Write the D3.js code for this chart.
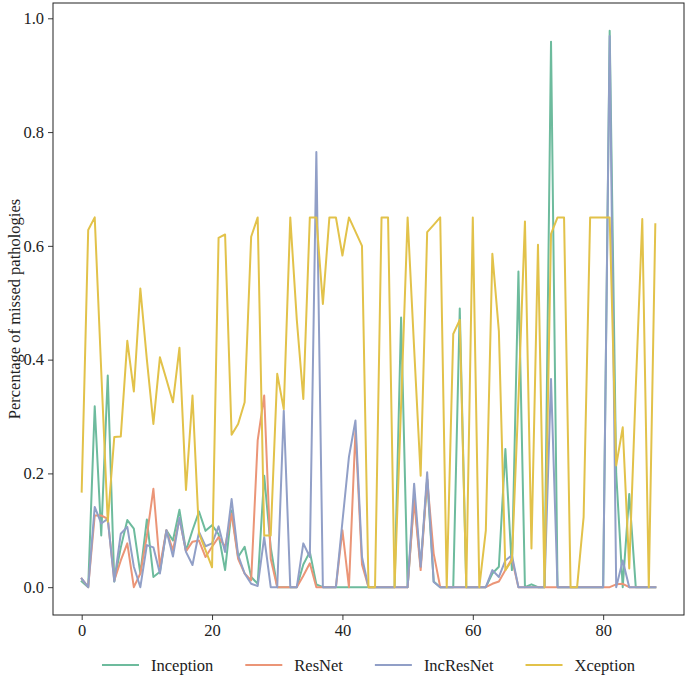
<!DOCTYPE html>
<html>
<head>
<meta charset="utf-8">
<script src="https://cdn.jsdelivr.net/npm/d3@7"></script>
<style>
  html, body { margin: 0; padding: 0; background: #fff; }
  svg { display: block; }
  text { font-family: "Liberation Serif", "Times New Roman", serif; fill: #222; }
</style>
</head>
<body>
<svg id="chart" width="685" height="675"></svg>
<script>
// ---- data ----
const seriesNames = ["Inception", "ResNet", "IncResNet", "Xception"];
const seriesColors = ["#6dbb9d", "#eb9577", "#919fc7", "#e2c24a"];

const inception = [0.01,0,0.318,0.091,0.372,0.01,0.07,0.118,0.103,0.024,
  0.119,0.018,0.027,0.1,0.082,0.136,0.064,0.1,0.133,0.099,
  0.109,0.093,0.03,0.135,0.053,0.071,0.018,0.006,0.196,0.07,
  0,0,0,0,0.04,0.062,0.005,0,0,0,
  0,0,0,0,0,0,0,0,0,0.474,
  0,0.16,0.036,0.19,0.01,0,0,0,0.49,0,
  0,0,0,0.024,0.036,0.243,0.03,0.555,0,0.005,
  0,0,0.959,0,0,0,0,0,0,0,
  0,0.978,0.2,0,0.164,0,0,0,0];

const resnet = [0.015,0,0.126,0.126,0.12,0.012,0.047,0.077,0,0.024,
  0.09,0.173,0.036,0.1,0.065,0.12,0.063,0.08,0.082,0.053,
  0.071,0.088,0.071,0.129,0.05,0.024,0.012,0.258,0.337,0.05,
  0,0,0,0,0.02,0.042,0,0,0,0,
  0.1,0,0.275,0.04,0,0,0,0,0,0,
  0,0.153,0.03,0.19,0.059,0,0,0,0,0,
  0,0,0,0.006,0.01,0.03,0.05,0,0,0,
  0,0,0,0,0,0,0,0,0,0,
  0,0,0.005,0.006,0,0,0,0,0];

const incresnet = [0.015,0,0.141,0.112,0.12,0.01,0.094,0.106,0.036,0,
  0.074,0.07,0.024,0.1,0.054,0.122,0.062,0.039,0.097,0.072,
  0.077,0.107,0.062,0.155,0.056,0.024,0.006,0.002,0.088,0,
  0,0.31,0,0,0.077,0.053,0.765,0,0,0,
  0.115,0.229,0.293,0.053,0,0,0,0,0,0,
  0,0.182,0.036,0.202,0.009,0,0,0,0,0,
  0,0,0,0.03,0.018,0.047,0.056,0,0,0,
  0,0,0.366,0,0,0,0,0,0,0,
  0,0.969,0,0.047,0,0,0,0,0];

const xception = [0.168,0.628,0.65,0.38,0.115,0.264,0.265,0.433,0.344,0.525,
  0.4,0.287,0.404,0.365,0.325,0.421,0.171,0.337,0.094,0.065,
  0.035,0.614,0.62,0.268,0.287,0.325,0.616,0.65,0.091,0.091,
  0.375,0.313,0.65,0.47,0.331,0.65,0.65,0.498,0.65,0.65,
  0.583,0.65,0.625,0.6,0,0,0.65,0.65,0,0.32,
  0.65,0.42,0.196,0.624,0.637,0.65,0,0.445,0.47,0,
  0.65,0,0.1,0.586,0.45,0.03,0.047,0.33,0.643,0.068,
  0.602,0,0.621,0.65,0.65,0,0,0.123,0.65,0.65,
  0.65,0.65,0.214,0.281,0.033,0.35,0.647,0,0.638];

const xTicks = [0, 20, 40, 60, 80];
const yTicks = [0.0, 0.2, 0.4, 0.6, 0.8, 1.0];
const yTitle = "Percentage of missed pathologies";

// ---- layout ----
const svg = d3.select("#chart");
const plot = { left: 53, right: 684, top: 3, bottom: 615 };
const allSeries = [inception, resnet, incresnet, xception];

const n = xception.length;
const xMin = 0, xMax = n - 1;
const xPad = (xMax - xMin) * 0.05;
const yMaxData = d3.max(allSeries.flat());
const yMinData = d3.min(allSeries.flat());
const yPad = (yMaxData - yMinData) * 0.05;

const x = d3.scaleLinear().domain([xMin - xPad, xMax + xPad]).range([plot.left, plot.right]);
const y = d3.scaleLinear().domain([yMinData - yPad, yMaxData + yPad]).range([plot.bottom, plot.top]);

// lines
const line = d3.line().x((d, i) => x(i)).y(d => y(d));
const gLines = svg.append("g");
allSeries.forEach((s, k) => {
  gLines.append("path")
    .datum(s)
    .attr("d", line)
    .attr("fill", "none")
    .attr("stroke", seriesColors[k])
    .attr("stroke-width", 2)
    .attr("stroke-linejoin", "round")
    .attr("stroke-linecap", "square");
});

// axes
const fontSize = 16.5;
const xAxis = d3.axisBottom(x).tickValues(xTicks).tickFormat(d3.format("d")).tickSizeOuter(0).tickSize(5).tickPadding(4);
const yAxis = d3.axisLeft(y).tickValues(yTicks).tickFormat(d3.format(".1f")).tickSizeOuter(0).tickSize(5).tickPadding(4);

const gx = svg.append("g").attr("transform", `translate(0,${plot.bottom})`).call(xAxis);
const gy = svg.append("g").attr("transform", `translate(${plot.left},0)`).call(yAxis);
[gx, gy].forEach(g => {
  g.attr("font-family", null).attr("font-size", null);
  g.select(".domain").remove();
  g.selectAll(".tick line").attr("stroke", "#222").attr("stroke-width", 0.9);
  g.selectAll(".tick text").attr("font-size", fontSize).attr("fill", "#222")
    .style("font-family", '"Liberation Serif", "Times New Roman", serif');
});

// frame
svg.append("rect")
  .attr("x", plot.left).attr("y", plot.top)
  .attr("width", plot.right - plot.left).attr("height", plot.bottom - plot.top)
  .attr("fill", "none").attr("stroke", "#222").attr("stroke-width", 1);

// y title
svg.append("text")
  .attr("transform", `translate(14,${(plot.top + plot.bottom) / 2}) rotate(-90)`)
  .attr("text-anchor", "middle")
  .attr("dominant-baseline", "central")
  .attr("font-size", fontSize)
  .text(yTitle);

// legend
const legY = 665;
const handleLen = 37, handlePad = 12, colGap = 32;
const legG = svg.append("g");
const items = seriesNames.map((name, k) => {
  const g = legG.append("g");
  g.append("line").attr("x1", 0).attr("x2", handleLen).attr("y1", 0).attr("y2", 0)
    .attr("stroke", seriesColors[k]).attr("stroke-width", 2);
  const t = g.append("text").attr("x", handleLen + handlePad).attr("y", 0)
    .attr("dominant-baseline", "central").attr("font-size", fontSize).text(name);
  const w = handleLen + handlePad + t.node().getComputedTextLength();
  return { g, w };
});
const totalW = d3.sum(items, d => d.w) + colGap * (items.length - 1);
let cx = (plot.left + plot.right) / 2 - totalW / 2;
items.forEach(it => {
  it.g.attr("transform", `translate(${cx},${legY})`);
  cx += it.w + colGap;
});
</script>
</body>
</html>
